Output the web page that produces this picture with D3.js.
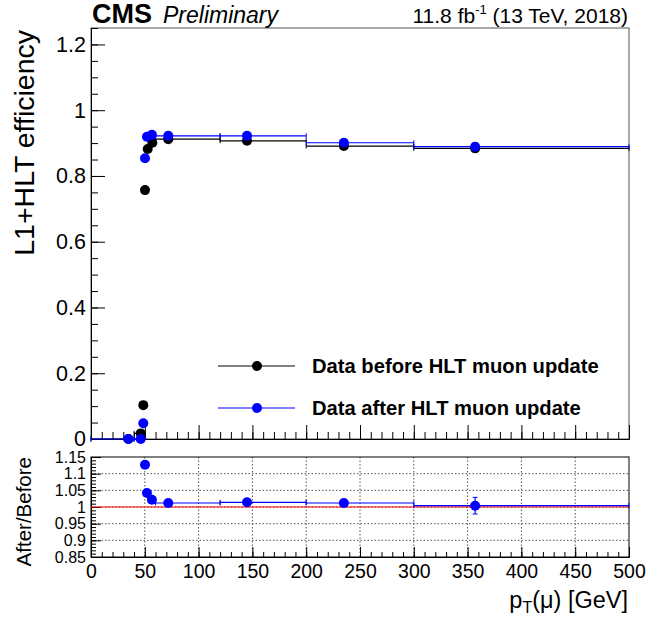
<!DOCTYPE html>
<html>
<head>
<meta charset="utf-8">
<script src="https://cdn.jsdelivr.net/npm/d3@7"></script>
<style>
  body { margin: 0; background: #fff; }
  svg { font-family: "Liberation Sans", Arial, Helvetica, sans-serif; }
  .axis path { stroke: #000; }
  .axis line { stroke: #000; }
</style>
</head>
<body>
<div id="chart"></div>
<script>
// bin edges in pT (GeV) and the points
var binEdges = [0, 40, 47, 49, 51, 54, 60, 120, 200, 300, 500];
var xBefore = [34.7, 46.2, 48.6, 50.2, 52.7, 57.0, 71.8, 145, 235, 357];
var effBefore = [0, 0.017, 0.103, 0.757, 0.882, 0.901, 0.912, 0.907, 0.891, 0.884];
var errBefore = [0, 0, 0, 0, 0, 0, 0, 0.003, 0.004, 0.01];
var xAfter = [34.7, 46.2, 48.6, 50.2, 52.0, 56.6, 71.8, 145, 235, 357];
var effAfter = [0, 0, 0.048, 0.854, 0.919, 0.925, 0.922, 0.922, 0.901, 0.889];
var errAfter = [0, 0, 0, 0, 0, 0, 0, 0.003, 0.004, 0.012];
var ratio = [null, null, null, 1.127, 1.042, 1.022, 1.012, 1.014, 1.012, 1.004];
var ratioErr = [0, 0, 0, 0, 0, 0, 0, 0.003, 0.004, 0.025];

var xTicksMajor = [0, 50, 100, 150, 200, 250, 300, 350, 400, 450, 500];
var effTicks = [0, 0.2, 0.4, 0.6, 0.8, 1, 1.2];
var ratioTicks = [0.85, 0.9, 0.95, 1, 1.05, 1.1, 1.15];

var legendLabels = ["Data before HLT muon update", "Data after HLT muon update"];
var colors = ["#000000", "#0000ff"];

var width = 647, height = 627;
var svg = d3.select("#chart").append("svg")
  .attr("width", width).attr("height", height);
svg.append("rect").attr("width", width).attr("height", height).attr("fill", "#fff");

var xScale = d3.scaleLinear().domain([0, 500]).range([91, 629]);
var yEff = d3.scaleLinear().domain([0, 1.25]).range([439, 28]);
var yRat = d3.scaleLinear().domain([0.85, 1.15]).range([557, 457]);

function fmt(d) { return d3.format("")(+d.toFixed(2)); }

// ---------- upper pad ----------
var upper = svg.append("g");

upper.append("rect")
  .attr("x", xScale(0)).attr("y", yEff(1.25))
  .attr("width", xScale(500) - xScale(0)).attr("height", yEff(0) - yEff(1.25))
  .attr("fill", "none").attr("stroke", "#555").attr("stroke-width", 1);

// minor ticks
upper.append("g").attr("class", "axis")
  .attr("transform", "translate(" + xScale(0) + ",0)")
  .call(d3.axisLeft(yEff).tickValues(d3.range(0, 1.26, 0.05)).tickSize(-7).tickSizeOuter(0).tickFormat(""));
upper.append("g").attr("class", "axis")
  .attr("transform", "translate(" + xScale(0) + ",0)")
  .call(d3.axisLeft(yEff).tickValues(effTicks).tickSize(-14).tickSizeOuter(0).tickPadding(5).tickFormat(fmt))
  .call(function(g) { g.selectAll("text").attr("font-size", 21.5).attr("font-family", null); });

upper.append("g").attr("class", "axis")
  .attr("transform", "translate(0," + yEff(0) + ")")
  .call(d3.axisBottom(xScale).tickValues(d3.range(0, 501, 10)).tickSize(-7).tickSizeOuter(0).tickFormat(""));
upper.append("g").attr("class", "axis")
  .attr("transform", "translate(0," + yEff(0) + ")")
  .call(d3.axisBottom(xScale).tickValues(xTicksMajor).tickSize(-14).tickSizeOuter(0).tickFormat(""));

function drawGraph(g, xs, ys, errs, yScale, color) {
  binEdges.slice(0, -1).forEach(function(lo, i) {
    var v = ys[i];
    if (v === null || v < yScale.domain()[0] || v > yScale.domain()[1]) return;
    var hi = binEdges[i + 1];
    var yy = yScale(v);
    g.append("line")
      .attr("x1", xScale(lo)).attr("x2", xScale(hi))
      .attr("y1", yy).attr("y2", yy)
      .attr("stroke", color).attr("stroke-width", 1.2);
    [lo, hi].forEach(function(e) {
      g.append("line")
        .attr("x1", xScale(e)).attr("x2", xScale(e))
        .attr("y1", yy - 2.5).attr("y2", yy + 2.5)
        .attr("stroke", color).attr("stroke-width", 1);
    });
    if (errs[i] > 0) {
      var y1 = yScale(v + errs[i]), y2 = yScale(v - errs[i]);
      g.append("line").attr("x1", xScale(xs[i])).attr("x2", xScale(xs[i]))
        .attr("y1", y1).attr("y2", y2).attr("stroke", color).attr("stroke-width", 1.2);
      [y1, y2].forEach(function(yc) {
        g.append("line").attr("x1", xScale(xs[i]) - 2.5).attr("x2", xScale(xs[i]) + 2.5)
          .attr("y1", yc).attr("y2", yc).attr("stroke", color).attr("stroke-width", 1);
      });
    }
  });
  g.selectAll("circle.pt")
    .data(xs.map(function(x, i) { return {x: x, y: ys[i]}; })
      .filter(function(d) { return d.y !== null && d.y >= yScale.domain()[0] && d.y <= yScale.domain()[1]; }))
    .enter().append("circle")
    .attr("class", "pt")
    .attr("cx", function(d) { return xScale(d.x); })
    .attr("cy", function(d) { return yScale(d.y); })
    .attr("r", 5)
    .attr("fill", color);
}

drawGraph(upper.append("g"), xBefore, effBefore, errBefore, yEff, colors[0]);
drawGraph(upper.append("g"), xAfter, effAfter, errAfter, yEff, colors[1]);

// legend
var legend = upper.append("g");
legendLabels.forEach(function(lbl, i) {
  var ly = 366 + i * 42;
  legend.append("line").attr("x1", 218).attr("x2", 295).attr("y1", ly).attr("y2", ly)
    .attr("stroke", colors[i]).attr("stroke-width", 1.2);
  legend.append("circle").attr("cx", 257).attr("cy", ly).attr("r", 5).attr("fill", colors[i]);
  legend.append("text").attr("x", 312).attr("y", ly + 7)
    .attr("font-size", 20.2).attr("font-weight", "bold").text(lbl);
});

// y title
svg.append("text")
  .attr("transform", "translate(34,30) rotate(-90)")
  .attr("text-anchor", "end")
  .attr("font-size", 28.5)
  .text("L1+HLT efficiency");

// header
svg.append("text").attr("x", 92).attr("y", 23)
  .attr("font-size", 27).attr("font-weight", "bold").text("CMS");
svg.append("text").attr("x", 163).attr("y", 23)
  .attr("font-size", 23).attr("font-style", "italic").text("Preliminary");
var lumi = svg.append("text").attr("x", 628).attr("y", 23)
  .attr("font-size", 21).attr("text-anchor", "end");
lumi.append("tspan").text("11.8 fb");
lumi.append("tspan").attr("dy", -9).attr("font-size", 13).text("-1");
lumi.append("tspan").attr("dy", 9).text(" (13 TeV, 2018)");

// ---------- ratio pad ----------
var lower = svg.append("g");

// dotted grid
lower.append("g").selectAll("line.gx")
  .data(xTicksMajor.slice(1, -1)).enter().append("line")
  .attr("x1", xScale).attr("x2", xScale)
  .attr("y1", yRat(1.15)).attr("y2", yRat(0.85))
  .attr("stroke", "#555").attr("stroke-dasharray", "1.5,2");
lower.append("g").selectAll("line.gy")
  .data(ratioTicks.slice(1, -1)).enter().append("line")
  .attr("x1", xScale(0)).attr("x2", xScale(500))
  .attr("y1", yRat).attr("y2", yRat)
  .attr("stroke", "#555").attr("stroke-dasharray", "1.5,2");

lower.append("rect")
  .attr("x", xScale(0)).attr("y", yRat(1.15))
  .attr("width", xScale(500) - xScale(0)).attr("height", yRat(0.85) - yRat(1.15))
  .attr("fill", "none").attr("stroke", "#000").attr("stroke-width", 1);

lower.append("g").attr("class", "axis")
  .attr("transform", "translate(" + xScale(0) + ",0)")
  .call(d3.axisLeft(yRat).tickValues(d3.range(0.85, 1.151, 0.01)).tickSize(-5).tickSizeOuter(0).tickFormat(""));
lower.append("g").attr("class", "axis")
  .attr("transform", "translate(" + xScale(0) + ",0)")
  .call(d3.axisLeft(yRat).tickValues(ratioTicks).tickSize(-10).tickSizeOuter(0).tickPadding(5).tickFormat(fmt))
  .call(function(g) { g.selectAll("text").attr("font-size", 16).attr("font-family", null); });

lower.append("g").attr("class", "axis")
  .attr("transform", "translate(0," + yRat(0.85) + ")")
  .call(d3.axisBottom(xScale).tickValues(d3.range(0, 501, 10)).tickSize(-5).tickSizeOuter(0).tickFormat(""));
lower.append("g").attr("class", "axis")
  .attr("transform", "translate(0," + yRat(0.85) + ")")
  .call(d3.axisBottom(xScale).tickValues(xTicksMajor).tickSize(-10).tickSizeOuter(0).tickPadding(7).tickFormat(fmt))
  .call(function(g) { g.selectAll("text").attr("font-size", 19.5).attr("font-family", null); });

// unity line
lower.append("line")
  .attr("x1", xScale(0)).attr("x2", xScale(500))
  .attr("y1", yRat(1)).attr("y2", yRat(1))
  .attr("stroke", "#ff0000").attr("stroke-width", 1);

drawGraph(lower.append("g"), xAfter, ratio, ratioErr, yRat, colors[1]);

svg.append("text")
  .attr("transform", "translate(31,457) rotate(-90)")
  .attr("text-anchor", "end")
  .attr("font-size", 20.5)
  .text("After/Before");

// x title
var xt = svg.append("text").attr("x", 628).attr("y", 608)
  .attr("text-anchor", "end").attr("font-size", 23.5);
xt.append("tspan").text("p");
xt.append("tspan").attr("dy", 5).attr("font-size", 16).text("T");
xt.append("tspan").attr("dy", -5).text("(\u03bc) [GeV]");
</script>
</body>
</html>
